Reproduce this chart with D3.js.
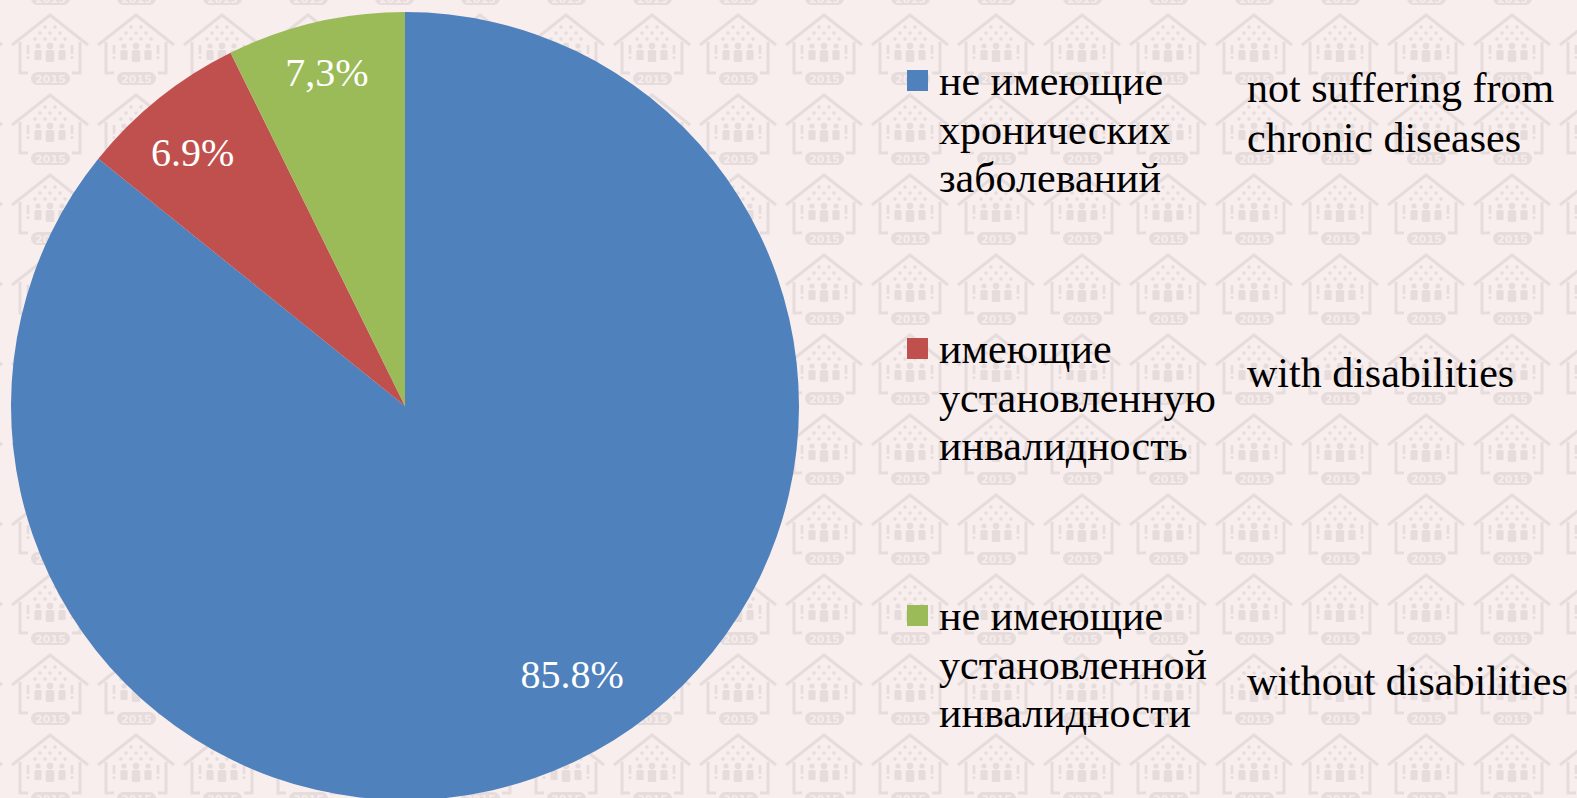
<!DOCTYPE html>
<html>
<head>
<meta charset="utf-8">
<script src="https://cdn.jsdelivr.net/npm/d3@7"></script>
<style>
  body { margin: 0; overflow: hidden; background: #f9eeee; }
  svg { display: block; }
</style>
</head>
<body>
<div id="chart"></div>
<script>
// data
const categoriesRu = [
  ["не имеющие", "хронических", "заболеваний"],
  ["имеющие", "установленную", "инвалидность"],
  ["не имеющие", "установленной", "инвалидности"]
];
const categoriesEn = [
  ["not suffering from", "chronic diseases"],
  ["with disabilities"],
  ["without disabilities"]
];
const shares = [85.8, 6.9, 7.3];
const shareLabels = ["85.8%", "6.9%", "7,3%"];
const colors = ["#4f81bd", "#c0504d", "#9bbb59"];

const width = 1577,
      height = 798,
      cx = 405,
      cy = 406,
      outerRadius = 394;

const serif = "'Liberation Serif', 'Times New Roman', serif";

// label placement (Excel "best fit" look)
const labelRadius = [316, 331, 343];
const labelTurn = [-6.4, -1.2, 0]; // degrees

const svg = d3.select("#chart")
  .append("svg")
  .attr("width", width)
  .attr("height", height);

// background with the faint house pattern
const pat = svg.append("defs").append("pattern")
  .attr("id", "houses")
  .attr("patternUnits", "userSpaceOnUse")
  .attr("x", 7).attr("y", 5)
  .attr("width", 86).attr("height", 80);

const ink = "#e6dcdc";
pat.append("rect").attr("width", 86).attr("height", 80).attr("fill", "#f9eeee");
pat.append("path")
  .attr("d", "M5,40 L43,10 L81,40 M13,37 V68 H21 M73,37 V68 H65")
  .attr("fill", "none").attr("stroke", ink).attr("stroke-width", 3)
  .attr("stroke-linejoin", "miter");
// dots under the roof
[[38, 22], [48, 22], [33, 28], [43, 28], [53, 28], [28, 34], [38, 34], [48, 34], [58, 34]]
  .forEach(p => pat.append("circle").attr("cx", p[0]).attr("cy", p[1]).attr("r", 1.8).attr("fill", ink));
// people
[[43, 3.2, 12], [31, 2.6, 10], [55, 2.6, 10]].forEach(([x, r, h]) => {
  pat.append("circle").attr("cx", x).attr("cy", 41).attr("r", r).attr("fill", ink);
  pat.append("rect").attr("x", x - r - 1).attr("y", 45).attr("width", 2 * r + 2).attr("height", h)
    .attr("rx", 1.5).attr("fill", ink);
});
[21, 65].forEach(x => {
  pat.append("rect").attr("x", x - 1.3).attr("y", 40).attr("width", 2.6).attr("height", 9).attr("fill", ink);
  pat.append("circle").attr("cx", x).attr("cy", 52.5).attr("r", 1.5).attr("fill", ink);
});
pat.append("rect").attr("x", 24).attr("y", 67).attr("width", 39).attr("height", 13)
  .attr("rx", 6.5).attr("fill", ink);
pat.append("text").attr("x", 43.5).attr("y", 77.5)
  .attr("text-anchor", "middle")
  .attr("font-family", "DejaVu Sans, sans-serif")
  .attr("font-weight", "bold").attr("font-size", 11)
  .attr("fill", "#f6ecec")
  .text("2015");

svg.append("rect")
  .attr("width", width).attr("height", height)
  .attr("fill", "url(#houses)");

// pie
const arcs = d3.pie().sort(null).value(d => d)(shares);
const arc = d3.arc().innerRadius(0).outerRadius(outerRadius);

const g = svg.append("g").attr("transform", `translate(${cx},${cy})`);

g.selectAll("path")
  .data(arcs)
  .join("path")
  .attr("fill", (d, i) => colors[i])
  .attr("d", arc);

g.selectAll("text")
  .data(arcs)
  .join("text")
  .attr("transform", (d, i) => {
    const a = (d.startAngle + d.endAngle) / 2 + labelTurn[i] * Math.PI / 180;
    const r = labelRadius[i];
    return `translate(${r * Math.sin(a)},${-r * Math.cos(a)})`;
  })
  .attr("text-anchor", "middle")
  .attr("dy", "0.35em")
  .style("font-family", serif)
  .attr("font-size", 40)
  .attr("fill", "white")
  .text((d, i) => shareLabels[i]);

// legend
const legendTop = [70, 338, 605];
const lineH = 48.5;

const legend = svg.append("g")
  .style("font-family", serif)
  .attr("font-size", 42)
  .attr("fill", "black");

const item = legend.selectAll("g")
  .data(categoriesRu)
  .join("g")
  .attr("transform", (d, i) => `translate(0,${legendTop[i]})`);

item.append("rect")
  .attr("x", 907).attr("y", 0)
  .attr("width", 21).attr("height", 21)
  .attr("fill", (d, i) => colors[i]);

item.append("text")
  .attr("x", 939)
  .selectAll("tspan")
  .data(d => d)
  .join("tspan")
  .attr("x", 939)
  .attr("y", (d, i) => 25 + i * lineH)
  .text(d => d);

// english translations
const enTop = [102, 387, 695];
legend.append("g")
  .selectAll("text")
  .data(categoriesEn)
  .join("text")
  .selectAll("tspan")
  .data((d, i) => d.map((t, j) => ({ t, y: enTop[i] + j * 50 })))
  .join("tspan")
  .attr("x", 1247)
  .attr("y", d => d.y)
  .text(d => d.t);
</script>
</body>
</html>
